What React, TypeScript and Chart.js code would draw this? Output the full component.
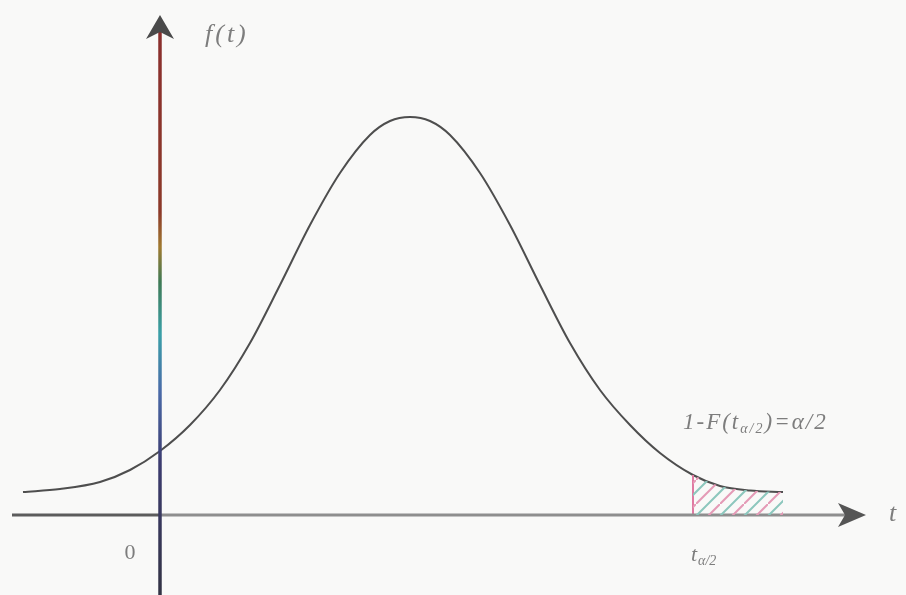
import React, { useEffect, useRef } from "react";
import { Chart, registerables } from "chart.js";

Chart.register(...registerables);

// Density curve (t, f(t))
const CURVE_T = [-1.37, -1.0, -0.6, -0.3, 0, 0.3, 0.6, 0.9, 1.2, 1.5, 1.8, 2.1, 2.3, 2.5, 2.7, 2.9, 3.2, 3.5, 3.8, 4.1, 4.4, 4.7, 5.0, 5.33, 5.6, 5.9, 6.23];
const CURVE_F = [0.23, 0.26, 0.33, 0.45, 0.64, 0.9, 1.25, 1.72, 2.3, 2.9, 3.42, 3.8, 3.94, 3.98, 3.94, 3.8, 3.42, 2.9, 2.3, 1.72, 1.25, 0.9, 0.62, 0.4, 0.29, 0.245, 0.23];

// Critical value t_{α/2}
const T_CRIT = 5.33;

// Axis extents (data units)
const X_AXIS_START = -1.48;
const X_AXIS_END = 7.06;
const Y_AXIS_TOP = 5.0;
const Y_AXIS_BOTTOM = -0.8;

// Texts
const Y_LABEL = "f(t)";
const X_LABEL = "t";
const ORIGIN_LABEL = "0";
const CRIT_MAIN = "t";
const CRIT_SUB = "α/2";
const AREA_LABEL_PARTS = ["1-F(t", "α/2", ")=α/2"];

const TEXT_COLOR = "#7d7d7d";

export default function App() {
  const ref = useRef<HTMLCanvasElement | null>(null);

  useEffect(() => {
    const canvas = ref.current;
    if (!canvas) return;

    // hatch pattern
    const pc = document.createElement("canvas");
    pc.width = 24;
    pc.height = 24;
    const p = pc.getContext("2d")!;
    p.lineWidth = 2;
    p.strokeStyle = "#e49ab6";
    p.beginPath();
    p.moveTo(-2, 26);
    p.lineTo(26, -2);
    p.stroke();
    p.strokeStyle = "#8cc7bd";
    p.beginPath();
    p.moveTo(-14, 26);
    p.lineTo(14, -2);
    p.moveTo(10, 26);
    p.lineTo(38, -2);
    p.stroke();
    const pattern = canvas.getContext("2d")!.createPattern(pc, "repeat");

    const curve = CURVE_T.map((t, i) => ({ x: t, y: CURVE_F[i] }));
    const tail = curve.filter((pt) => pt.x >= T_CRIT);
    const critY = CURVE_F[CURVE_T.indexOf(T_CRIT)];

    const bg = {
      id: "bg",
      beforeDraw(chart: any) {
        const c = chart.ctx;
        c.save();
        c.fillStyle = "#f9f9f8";
        c.fillRect(0, 0, chart.width, chart.height);
        c.restore();
      },
    };

    const deco = {
      id: "deco",
      afterDatasetsDraw(chart: any) {
        const c = chart.ctx as CanvasRenderingContext2D;
        const xs = chart.scales.x;
        const ys = chart.scales.y;
        const x0 = xs.getPixelForValue(0);
        const y0 = ys.getPixelForValue(0);
        const yTop = ys.getPixelForValue(Y_AXIS_TOP);
        const yBot = ys.getPixelForValue(Y_AXIS_BOTTOM);
        const xEnd = xs.getPixelForValue(X_AXIS_END);

        c.save();
        // x arrow head
        c.fillStyle = "#555";
        c.beginPath();
        c.moveTo(xEnd, y0);
        c.lineTo(xEnd - 28, y0 - 12);
        c.lineTo(xEnd - 21, y0);
        c.lineTo(xEnd - 28, y0 + 12);
        c.closePath();
        c.fill();

        // y axis with colour fringe gradient
        const g = c.createLinearGradient(0, yTop, 0, yBot);
        g.addColorStop(0, "#8a2e2e");
        g.addColorStop(0.34, "#8c3a2a");
        g.addColorStop(0.4, "#a07a30");
        g.addColorStop(0.46, "#3f7a55");
        g.addColorStop(0.55, "#3aa0a8");
        g.addColorStop(0.65, "#4a6aa8");
        g.addColorStop(0.77, "#3c3c70");
        g.addColorStop(1, "#333344");
        c.strokeStyle = g;
        c.lineWidth = 3.5;
        c.beginPath();
        c.moveTo(x0, yTop + 10);
        c.lineTo(x0, yBot);
        c.stroke();
        // y arrow head
        c.fillStyle = "#4a4a4a";
        c.beginPath();
        c.moveTo(x0, yTop);
        c.lineTo(x0 - 14, yTop + 24);
        c.lineTo(x0, yTop + 17);
        c.lineTo(x0 + 14, yTop + 24);
        c.closePath();
        c.fill();

        // labels
        c.fillStyle = TEXT_COLOR;
        c.textBaseline = "middle";
        c.textAlign = "left";
        c.font = "italic 26px 'Liberation Serif'";
        (c as any).letterSpacing = "3px";
        c.fillText(Y_LABEL, xs.getPixelForValue(0.45), ys.getPixelForValue(4.8));
        (c as any).letterSpacing = "0px";
        c.fillText(X_LABEL, xs.getPixelForValue(7.29), ys.getPixelForValue(0.01));

        c.font = "22px 'Liberation Serif'";
        c.textAlign = "center";
        c.fillText(ORIGIN_LABEL, xs.getPixelForValue(-0.3), ys.getPixelForValue(-0.38));

        // critical value label
        c.textAlign = "left";
        let cx = xs.getPixelForValue(5.31);
        const cy = ys.getPixelForValue(-0.4);
        c.font = "italic 22px 'Liberation Serif'";
        c.fillText(CRIT_MAIN, cx, cy);
        cx += c.measureText(CRIT_MAIN).width + 1;
        c.font = "italic 14px 'Liberation Serif'";
        c.fillText(CRIT_SUB, cx, cy + 6);

        // area label
        (c as any).letterSpacing = "2px";
        let ax = xs.getPixelForValue(5.23);
        const ay = ys.getPixelForValue(0.92);
        c.font = "italic 23px 'Liberation Serif'";
        c.fillText(AREA_LABEL_PARTS[0], ax, ay);
        ax += c.measureText(AREA_LABEL_PARTS[0]).width;
        c.font = "italic 14px 'Liberation Serif'";
        c.fillText(AREA_LABEL_PARTS[1], ax, ay + 6);
        ax += c.measureText(AREA_LABEL_PARTS[1]).width;
        c.font = "italic 23px 'Liberation Serif'";
        c.fillText(AREA_LABEL_PARTS[2], ax, ay);
        c.restore();
      },
    };

    const chart = new Chart(canvas, {
      type: "scatter",
      data: {
        datasets: [
          {
            data: tail,
            showLine: true,
            borderWidth: 0,
            pointRadius: 0,
            fill: "origin",
            backgroundColor: pattern as any,
            cubicInterpolationMode: "monotone",
            clip: false as any,
          },
          {
            data: [
              { x: X_AXIS_START, y: 0 },
              { x: 0, y: 0 },
            ],
            showLine: true,
            borderColor: "#5c5c5c",
            borderWidth: 3,
            pointRadius: 0,
            clip: false as any,
          },
          {
            data: [
              { x: 0, y: 0 },
              { x: X_AXIS_END - 0.2, y: 0 },
            ],
            showLine: true,
            borderColor: "#8e8e8e",
            borderWidth: 3,
            pointRadius: 0,
            clip: false as any,
          },
          {
            data: [
              { x: T_CRIT, y: 0 },
              { x: T_CRIT, y: critY },
            ],
            showLine: true,
            borderColor: "#e07aa2",
            borderWidth: 2,
            pointRadius: 0,
          },
          {
            data: curve,
            showLine: true,
            borderColor: "#4e4e4e",
            borderWidth: 2,
            pointRadius: 0,
            cubicInterpolationMode: "monotone",
            clip: false as any,
          },
        ],
      },
      options: {
        animation: false,
        responsive: true,
        maintainAspectRatio: false,
        layout: { padding: 0 },
        plugins: { legend: { display: false }, tooltip: { enabled: false } },
        scales: {
          x: { type: "linear", min: -1.6, max: 7.46, display: false },
          y: { type: "linear", min: -0.8, max: 5.15, display: false },
        },
      },
      plugins: [bg, deco],
    });
    return () => chart.destroy();
  }, []);

  return (
    <div style={{ position: "fixed", left: 0, top: 0, width: 906, height: 595 }}>
      <canvas ref={ref} />
    </div>
  );
}
